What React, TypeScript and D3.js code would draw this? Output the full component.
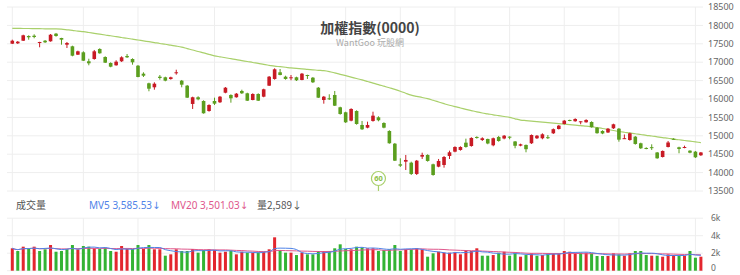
import React from "react";
import * as d3 from "d3";

const W = 740;
const H = 275;

// OHLC per trading day (index 0..126)
const opens = [17503,17514,17584,17712,17720,17530,17584,17568,17775,17658,17476,17432,17204,17269,17025,17087,17359,17141,16978,16916,17025,17169,17087,16905,16688,16427,16318,16606,16590,16544,16707,16498,16362,15865,16047,15946,15674,15946,15911,16171,16109,16047,16218,16155,15973,16136,16063,16362,16544,16726,16606,16563,16590,16517,16652,16579,16307,15973,16019,16109,15775,15639,15411,15674,15294,15221,15403,15503,15348,15131,14786,14226,14297,14270,13963,14433,14479,14226,14161,14207,14452,14569,14615,14813,14723,14968,14886,14914,14742,14968,14927,14976,14846,14732,14751,14797,14933,14933,14962,15068,15185,15321,15430,15396,15378,15367,15375,15221,15131,15090,15204,15193,14924,14886,14976,14797,14669,14691,14547,14424,14696,14919,14688,14669,14596,14569,14471];
const highs = [17612,17576,17747,17731,17758,17555,17603,17766,17794,17663,17549,17449,17313,17296,17095,17332,17378,17160,16997,17052,17160,17223,17106,16924,16726,16443,16454,16652,16606,16606,16796,16517,16381,16063,16074,15965,15856,16036,16082,16326,16128,16163,16253,16171,16155,16155,16280,16625,16834,16815,16633,16652,16606,16707,16660,16598,16326,16082,16128,16218,15790,15655,15748,15693,15403,15384,15655,15530,15367,15150,14805,14389,14479,14297,14343,14541,14497,14243,14370,14451,14596,14715,14715,14922,14960,14987,14960,14922,14951,14997,15022,14987,14859,14786,14764,15036,15022,15068,15022,15199,15294,15430,15438,15476,15397,15449,15394,15240,15150,15212,15329,15212,15036,15085,14995,14813,14688,14769,14560,14601,14859,14933,14704,14732,14607,14588,14560];
const lows = [17495,17495,17576,17612,17650,17405,17522,17557,17693,17476,17386,17160,17196,17033,16916,17068,17231,16978,16862,16905,17006,17114,16932,16590,16598,16210,16253,16525,16481,16525,16661,16318,16028,15729,15965,15601,15655,15837,15892,16155,15900,16036,16136,15946,15965,15946,16047,16354,16525,16644,16525,16509,16489,16509,16544,16435,16028,15873,15973,15810,15574,15348,15394,15302,15158,15204,15384,15394,15204,14786,14316,14153,14071,13935,13935,14370,14297,13916,14145,14134,14370,14552,14596,14677,14704,14922,14859,14770,14715,14840,14905,14905,14661,14715,14552,14778,14913,14905,14913,15049,15172,15307,15396,15382,15313,15357,15221,15057,15044,15077,15185,14840,14913,14867,14759,14642,14634,14615,14376,14411,14683,14897,14525,14661,14525,14397,14452];
const closes = [17584,17557,17731,17677,17685,17549,17541,17747,17712,17612,17522,17177,17296,17041,16970,17296,17242,16987,16878,17014,17133,17133,16997,16598,16633,16280,16416,16571,16498,16590,16726,16389,16036,16047,15992,15612,15837,15873,16063,16307,16019,16144,16155,15954,16136,15954,16264,16606,16807,16652,16544,16590,16509,16688,16625,16454,16036,16063,15992,15818,15593,15367,15729,15321,15177,15294,15547,15422,15221,14797,14324,14188,14343,13963,14324,14479,14316,13935,14316,14424,14552,14696,14696,14696,14941,14941,14933,14791,14933,14859,15003,14954,14729,14769,14636,15022,15003,15041,14951,15180,15275,15411,15414,15457,15394,15430,15234,15071,15063,15193,15313,14895,14935,15068,14778,14661,14653,14677,14389,14588,14818,14905,14642,14696,14541,14416,14547];

// 60-day moving average of the index
const ma60 = [17919,17919,17916,17916,17913,17910,17908,17905,17905,17897,17881,17864,17845,17829,17807,17783,17761,17739,17718,17693,17671,17650,17625,17603,17579,17557,17533,17508,17487,17462,17438,17410,17370,17332,17291,17253,17212,17174,17147,17120,17095,17071,17044,17019,16992,16968,16940,16916,16892,16878,16862,16845,16832,16821,16807,16794,16780,16769,16745,16709,16671,16633,16595,16557,16519,16476,16432,16392,16348,16305,16261,16212,16155,16104,16071,16041,16008,15965,15919,15873,15829,15791,15756,15720,15685,15650,15620,15596,15571,15549,15525,15500,15462,15427,15413,15400,15386,15373,15359,15346,15332,15318,15305,15291,15278,15261,15248,15223,15199,15172,15144,15117,15096,15077,15055,15036,15014,14995,14973,14952,14933,14911,14892,14873,14854,14835,14816];

// trading volume
const volumes = [2560,2250,2745,2560,2745,2250,2445,2935,2170,2250,2480,2935,2445,2820,2745,2560,2480,2630,2250,2170,2820,2480,2480,2935,2480,2935,2445,2445,1715,1870,2445,2250,2250,2480,2060,2365,2445,2365,2060,2170,2300,1870,2170,2060,2060,2100,2170,2445,3815,2365,2060,2060,1790,2060,1870,1870,2250,2250,2250,2560,3015,2480,2445,2745,2670,2560,2560,2250,2365,2445,2935,2250,2445,2445,2560,2445,1600,1985,2170,2060,2060,2100,1870,2365,2250,2560,1715,1715,1790,2060,2170,1715,2060,1600,1790,1985,1715,1790,1985,1985,1985,2250,2170,2060,2060,2060,1985,1680,1680,1680,1985,1870,1715,1985,2250,2250,1790,1715,1715,1600,1870,1790,1715,1715,2250,1485,1600];

const priceTicks = [13500, 14000, 14500, 15000, 15500, 16000, 16500, 17000, 17500, 18000, 18500];
const volTicks = [0, 2000, 4000, 6000];
const volTickLabels = ["0", "2k", "4k", "6k"];
const gridDays = [0, 13, 23, 37, 51, 61, 71, 81, 91, 101, 111, 125];
const markerDay = 67;
const markerLabel = "60";

const title = "加權指數(0000)";
const subtitle = "WantGoo 玩股網";
const legendVolLabel = "成交量";
const legendMv5 = "MV5 3,585.53↓";
const legendMv20 = "MV20 3,501.03↓";
const legendVol = "量2,589↓";

const RED = "#c81a24";
const GREEN = "#5b9e1e";
const VRED = "#e3262e";
const VGREEN = "#33b333";
const MA_COLOR = "#a9d06b";
const BLUE = "#4f83e8";
const PINK = "#e0578c";
const GRID = "#eeeeee";
const CJK = "'Noto Sans CJK TC', 'Noto Sans', sans-serif";
const SANS = "'Noto Sans', 'DejaVu Sans', sans-serif";

function movingAvg(arr: number[], n: number) {
  return arr.map((_, i) => {
    const s = arr.slice(Math.max(0, i - n + 1), i + 1);
    return d3.mean(s) as number;
  });
}

export default function App() {
  const N = closes.length;
  const x = d3.scaleLinear().domain([0, N - 1]).range([12.3, 12.3 + (N - 1) * 5.465]);
  const y = d3.scaleLinear().domain([13500, 18500]).range([191, 7]);
  const yv = d3.scaleLinear().domain([0, 6000]).range([270.7, 218.2]);
  const left = 7;
  const right = 703;
  const bodyW = 3.6;
  const volW = 3;

  const maLine = d3
    .line<number>()
    .x((_, i) => x(i))
    .y((d) => y(d))
    .curve(d3.curveMonotoneX);
  const mv5 = movingAvg(volumes, 5);
  const mv20 = movingAvg(volumes, 20);
  const vLine = d3
    .line<number>()
    .x((_, i) => x(i))
    .y((d) => yv(d))
    .curve(d3.curveMonotoneX);

  return (
    <svg width={W} height={H} style={{ position: "absolute", left: 0, top: 0, background: "#fff" }}>
      {priceTicks.map((t) => (
        <line key={"pg" + t} x1={left} x2={right} y1={y(t)} y2={y(t)} stroke={GRID} strokeWidth={1} />
      ))}
      {volTicks.map((t) => (
        <line key={"vg" + t} x1={left} x2={right} y1={yv(t)} y2={yv(t)} stroke={GRID} strokeWidth={1} />
      ))}
      {gridDays.map((d) => (
        <g key={"vd" + d}>
          <line x1={x(d)} x2={x(d)} y1={y(18500)} y2={y(13500)} stroke={GRID} />
          <line x1={x(d)} x2={x(d)} y1={yv(6000)} y2={yv(0)} stroke={GRID} />
        </g>
      ))}

      <text x={370} y={33} textAnchor="middle" fontFamily={CJK} fontSize={14} fontWeight={700} fill="#444">
        {title}
      </text>
      <text x={370} y={46} textAnchor="middle" fontFamily={CJK} fontSize={9} fill="#aaa">
        {subtitle}
      </text>

      {priceTicks.map((t) => (
        <text key={"pl" + t} x={708} y={y(t)} dy="0.35em" fontFamily={SANS} fontSize={9} fill="#666">
          {t}
        </text>
      ))}
      {volTicks.map((t, i) => (
        <text key={"vl" + t} x={711} y={Math.min(yv(t), 268.5)} dy="0.35em" fontFamily={SANS} fontSize={8.5} fill="#666">
          {volTickLabels[i]}
        </text>
      ))}

      <path d={maLine(ma60) || ""} fill="none" stroke={MA_COLOR} strokeWidth={1.2} />

      {closes.map((c, i) => {
        const o = opens[i];
        const up = c >= o;
        const col = up ? RED : GREEN;
        const top = y(Math.max(o, c));
        const bot = y(Math.min(o, c));
        return (
          <g key={"c" + i}>
            <line x1={x(i)} x2={x(i)} y1={y(highs[i])} y2={y(lows[i])} stroke={col} strokeWidth={1} />
            <rect x={x(i) - bodyW / 2} y={top} width={bodyW} height={Math.max(1, bot - top)} fill={col} />
          </g>
        );
      })}

      <g>
        <line x1={x(markerDay)} x2={x(markerDay)} y1={185.5} y2={191} stroke={MA_COLOR} strokeWidth={1.2} />
        <circle cx={x(markerDay)} cy={178.5} r={7} fill="#fff" stroke={MA_COLOR} strokeWidth={1.2} />
        <text x={x(markerDay)} y={178.5} dy="0.35em" textAnchor="middle" fontFamily={SANS} fontSize={7.5} fontWeight={700} fill="#8cbf45">
          {markerLabel}
        </text>
      </g>

      <text x={16} y={209} fontFamily={CJK} fontSize={10} fill="#555">{legendVolLabel}</text>
      <text x={89} y={209} fontFamily={SANS} fontSize={10} fill={BLUE}>{legendMv5}</text>
      <text x={171} y={209} fontFamily={SANS} fontSize={10} fill={PINK}>{legendMv20}</text>
      <text x={257} y={209} fontFamily={CJK} fontSize={10} fill="#555">{legendVol}</text>

      {volumes.map((v, i) => {
        const up = i === 0 ? closes[0] >= opens[0] : closes[i] >= closes[i - 1];
        return (
          <rect key={"v" + i} x={x(i) - volW / 2} y={yv(v)} width={volW} height={yv(0) - yv(v)} fill={up ? VRED : VGREEN} />
        );
      })}
      <path d={vLine(mv20) || ""} fill="none" stroke={PINK} strokeWidth={1} />
      <path d={vLine(mv5) || ""} fill="none" stroke={BLUE} strokeWidth={1} />
    </svg>
  );
}
